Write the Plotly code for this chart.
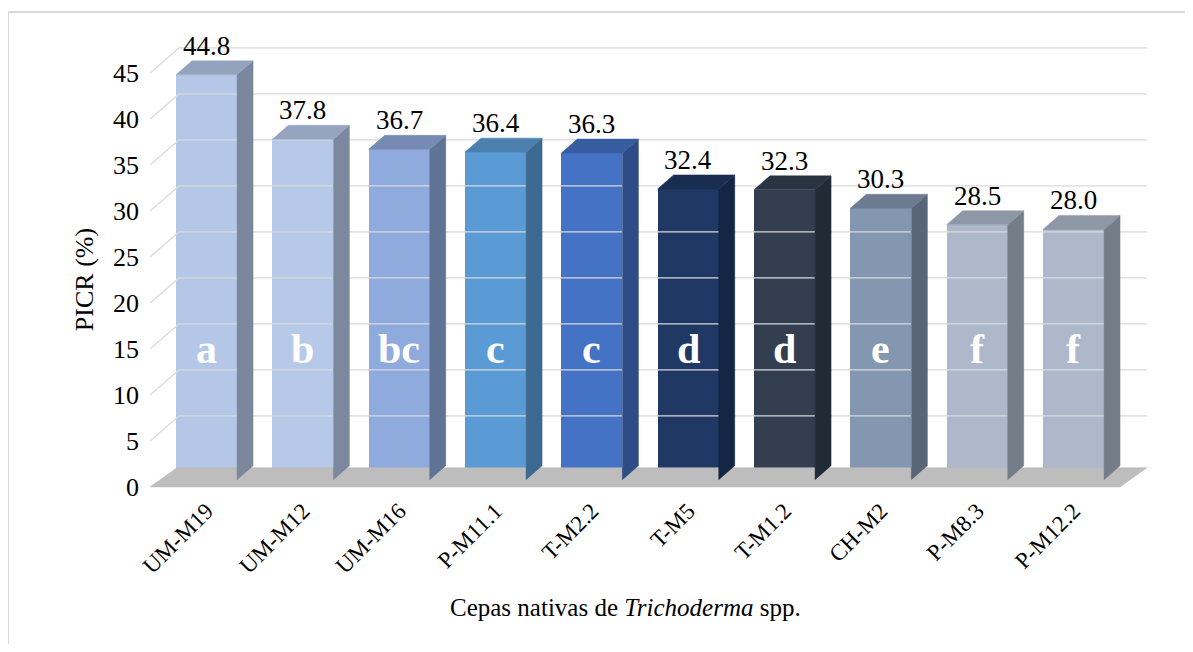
import plotly.graph_objects as go

# ---- data ----
strains = ["UM-M19", "UM-M12", "UM-M16", "P-M11.1", "T-M2.2", "T-M5", "T-M1.2", "CH-M2", "P-M8.3", "P-M12.2"]
picr = [44.8, 37.8, 36.7, 36.4, 36.3, 32.4, 32.3, 30.3, 28.5, 28.0]
groups = ["a", "b", "bc", "c", "c", "d", "d", "e", "f", "f"]
y_ticks = [0, 5, 10, 15, 20, 25, 30, 35, 40, 45]

# ---- styling ----
front_colors = ["#b4c7e7", "#b7c9e9", "#8faadc", "#5b9bd5", "#4472c4",
                "#1f3864", "#333f50", "#8497b0", "#adb9ca", "#adb9ca"]

def shade(hexc, f):
    h = hexc.lstrip("#")
    r, g, b = int(h[0:2], 16), int(h[2:4], 16), int(h[4:6], 16)
    return "rgb(%d,%d,%d)" % (int(r * f), int(g * f), int(b * f))

FONT = "Liberation Serif, Times New Roman, serif"
X_RANGE = [-0.587, 9.794]
Y_RANGE = [-1.413, 50.76]
BAR_W = 0.634
BAR_BASE = 0.8
DXB, DYB = 0.166, 1.52      # bar depth offsets (data units)
DXW, DYW = 0.30, 2.72       # back wall offsets
DXF, DYF = 0.28, 2.1        # floor depth
X_RIGHT = 9.763

fig = go.Figure()

# gridlines (front diagonal + back wall)
for t in y_ticks[1:]:
    fig.add_trace(go.Scatter(
        x=[X_RANGE[0], X_RANGE[0] + DXW, X_RIGHT],
        y=[t, t + DYW, t + DYW],
        mode="lines", line=dict(color="#d9d9d9", width=1.3),
        hoverinfo="skip", showlegend=False))

# floor
fig.add_trace(go.Scatter(
    x=[X_RANGE[0], X_RIGHT - DXF, X_RIGHT, X_RANGE[0] + DXF, X_RANGE[0]],
    y=[0, 0, DYF, DYF, 0],
    mode="lines", fill="toself", fillcolor="#bdbdbd",
    line=dict(color="#bdbdbd", width=0.5),
    hoverinfo="skip", showlegend=False))

# bar side and top faces
for i, v in enumerate(picr):
    xl = i - BAR_W / 2
    xr = i + BAR_W / 2
    fig.add_trace(go.Scatter(
        x=[xr, xr + DXB, xr + DXB, xr, xr],
        y=[BAR_BASE, BAR_BASE + DYB, v + DYB, v, BAR_BASE],
        mode="lines", fill="toself", fillcolor=shade(front_colors[i], 0.68),
        line=dict(color=shade(front_colors[i], 0.68), width=0.5),
        hoverinfo="skip", showlegend=False))
    fig.add_trace(go.Scatter(
        x=[xl, xl + DXB, xr + DXB, xr, xl],
        y=[v, v + DYB, v + DYB, v, v],
        mode="lines", fill="toself", fillcolor=shade(front_colors[i], 0.82),
        line=dict(color=shade(front_colors[i], 0.82), width=0.5),
        hoverinfo="skip", showlegend=False))

# front faces
fig.add_trace(go.Bar(
    x=list(range(len(strains))),
    y=[v - BAR_BASE for v in picr],
    base=BAR_BASE,
    width=BAR_W,
    marker=dict(color=front_colors, line=dict(width=0)),
    hoverinfo="skip", showlegend=False))

annotations = []
for i, (v, g) in enumerate(zip(picr, groups)):
    annotations.append(dict(x=i, y=v, text="%.1f" % v, showarrow=False, yshift=29,
                            font=dict(family=FONT, size=27, color="#000000")))
    annotations.append(dict(x=i, y=15, text="<b>%s</b>" % g, showarrow=False,
                            font=dict(family=FONT, size=42, color="#ffffff")))

annotations.append(dict(xref="paper", yref="paper", x=0.475, y=-0.223,
                        xanchor="center", yanchor="middle",
                        text="Cepas nativas de <i>Trichoderma</i> spp.", showarrow=False,
                        font=dict(family=FONT, size=25, color="#000000")))
annotations.append(dict(xref="paper", yref="paper", x=-0.066, y=0.458, textangle=-90,
                        xanchor="center", yanchor="middle",
                        text="PICR (%)", showarrow=False,
                        font=dict(family=FONT, size=26, color="#000000")))

fig.update_layout(
    width=1177, height=636,
    margin=dict(l=142, r=35, t=12, b=144),
    paper_bgcolor="#ffffff", plot_bgcolor="#ffffff",
    bargap=0,
    xaxis=dict(range=X_RANGE, tickvals=list(range(len(strains))), ticktext=strains,
               tickangle=-45, showgrid=False, zeroline=False, showline=False,
               ticklabelstandoff=-8,
               tickfont=dict(family=FONT, size=23, color="#000000")),
    yaxis=dict(range=Y_RANGE, tickvals=y_ticks, showgrid=False, zeroline=False,
               showline=False, ticklabelstandoff=10,
               tickfont=dict(family=FONT, size=26, color="#000000")),
    annotations=annotations,
    shapes=[
        dict(type="line", xref="paper", yref="paper", x0=-0.142, x1=1.1, y0=1.0167, y1=1.0167,
             line=dict(color="#d9d9d9", width=2)),
        dict(type="line", xref="paper", yref="paper", x0=-0.142, x1=-0.142, y0=1.0167, y1=-0.4,
             line=dict(color="#d9d9d9", width=2)),
    ],
)

fig.write_html("out.html")
